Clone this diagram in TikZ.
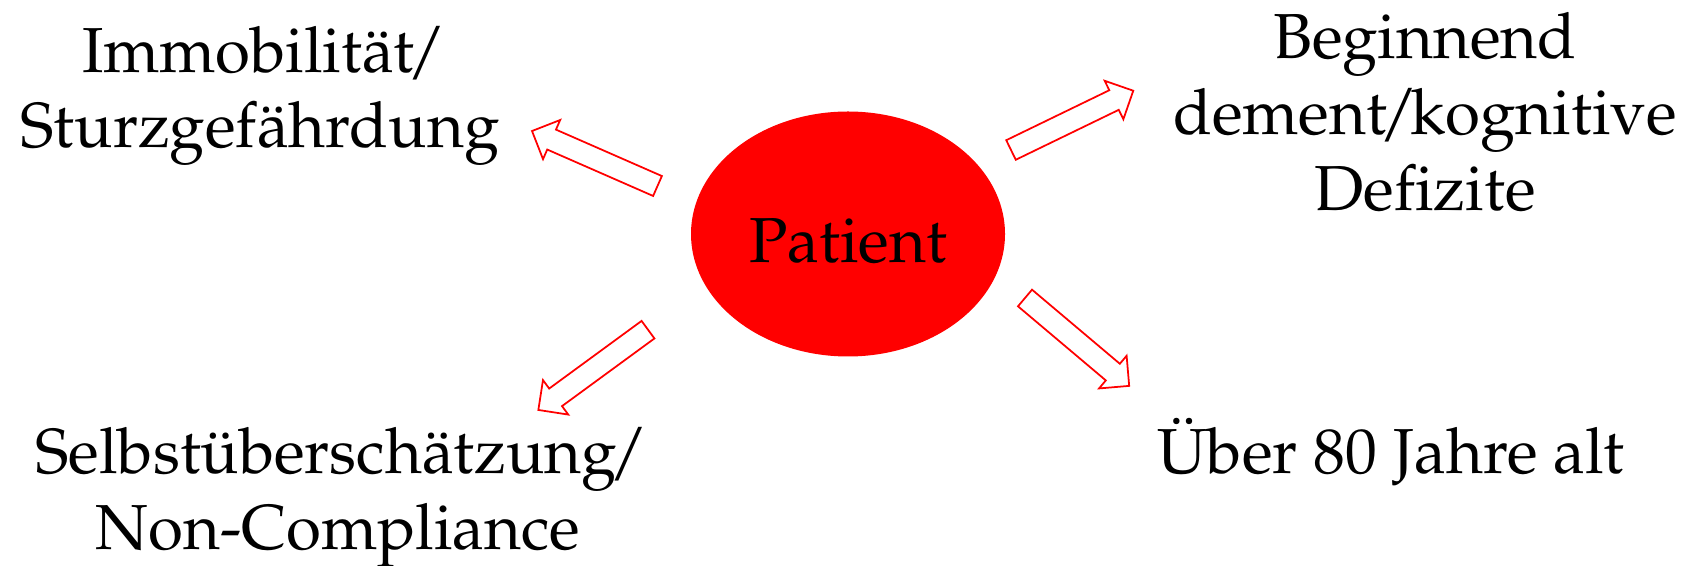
\documentclass[tikz,border=0pt]{standalone}
\usepackage[T1]{fontenc}
\usepackage{mathpazo}
\usetikzlibrary{calc,shapes.geometric,shapes.arrows}

\tikzset{
  factor/.style={align=center,inner sep=0pt},
  hollow arrow/.style={single arrow,draw=red,fill=white,line width=0.5pt,
    inner xsep=0pt,inner ysep=0.1cm,outer sep=0pt,
    single arrow head extend=0.105cm,single arrow tip angle=90}
}

% slash without the wide side bearings
\newcommand{\tightslash}{\kern-0.12em/\kern-0.12em}

% block arrow from a tail coordinate to a tip coordinate
\newcommand{\blockarrow}[3]{%
  \path let \p1=($(#3)-(#2)$), \n1={atan2(\y1,\x1)}, \n2={veclen(\x1,\y1)} in
    node [hollow arrow,rotate=\n1,minimum height=\n2,anchor=tail] (#1) at (#2) {};}

\begin{document}
\begin{tikzpicture}[font=\fontsize{18.1}{21.6}\selectfont]

    \useasboundingbox (0,0) rectangle (16.86,5.66);

    % Centre
    \node [ellipse,fill=red,minimum width=3.14cm,minimum height=2.45cm,inner sep=0pt,
        text height=0.57cm,text depth=0pt] (patient) at (8.48,3.32) {Patient};

    % Risk factors
    \node [factor] (immob) at (2.60,4.70) {Immobilit\"at\tightslash\\Sturzgef\"ahrdung};
    \node [factor] (demenz) at (14.25,4.535) {Beginnend\\dement\tightslash kognitive\\Def{}izite};
    \node [factor] (selbst) at (3.38,0.685) {Selbst\"ubersch\"atzung\tightslash\\Non-Compliance};
    \node [factor,anchor=base] (alter) at (13.91,0.92) {\"Uber 80 Jahre alt};

    % Arrow ends
    \coordinate (tl-tail) at (6.575,3.80);
    \coordinate (tl-tip) at (5.32,4.35);
    \coordinate (tr-tail) at (10.11,4.16);
    \coordinate (tr-tip) at (11.333,4.753);
    \coordinate (bl-tail) at (6.48,2.363);
    \coordinate (bl-tip) at (5.383,1.56);
    \coordinate (br-tail) at (10.25,2.68);
    \coordinate (br-tip) at (11.293,1.80);

    % Arrows
    \blockarrow{arr-tl}{tl-tail}{tl-tip}
    \blockarrow{arr-tr}{tr-tail}{tr-tip}
    \blockarrow{arr-bl}{bl-tail}{bl-tip}
    \blockarrow{arr-br}{br-tail}{br-tip}

\end{tikzpicture}
\end{document}
